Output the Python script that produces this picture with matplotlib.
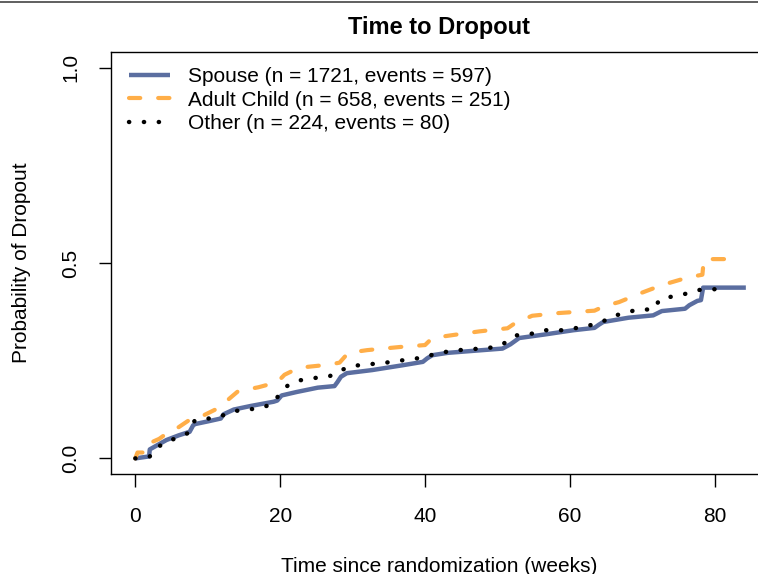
import numpy as np
import matplotlib
matplotlib.use("Agg")
import matplotlib.pyplot as plt
from matplotlib.lines import Line2D

plt.rcParams['font.family'] = ['Liberation Sans', 'DejaVu Sans']

# cumulative dropout curves (weeks, probability)
spouse_t = [0, 1.9, 2.0, 4.3, 6.0, 7.5, 8.0, 8.3, 10.1, 11.8, 12.2, 13.6, 15.9, 19.1, 19.6, 20.2,
            22.3, 25.2, 27.5, 27.9, 28.4, 29.2, 32.7, 36.8, 39.7, 40.3, 41.0, 43.1, 47.2, 50.7,
            51.8, 53.0, 56.5, 60.5, 63.4, 64.0, 64.6, 68.1, 71.5, 72.7, 75.9, 76.5, 77.6, 78.1,
            78.4, 84.3]
spouse_p = [0, 0.005, 0.023, 0.047, 0.059, 0.068, 0.085, 0.088, 0.095, 0.102, 0.113, 0.125, 0.134,
            0.145, 0.148, 0.161, 0.17, 0.181, 0.185, 0.195, 0.209, 0.218, 0.226, 0.238, 0.247,
            0.256, 0.264, 0.27, 0.276, 0.281, 0.292, 0.308, 0.317, 0.328, 0.334, 0.342, 0.349,
            0.36, 0.366, 0.377, 0.383, 0.392, 0.403, 0.405, 0.437, 0.437]

child_t = [0, 0.3, 1.6, 2.1, 3.3, 4.8, 6.0, 7.6, 9.2, 11.6, 12.8, 14.2, 17.0, 19.6, 20.6, 22.6,
           26.8, 28.2, 29.4, 32.0, 36.5, 40.0, 41.0, 44.0, 47.5, 51.4, 52.5, 54.8, 58.5, 63.4,
           64.8, 66.8, 69.8, 72.8, 76.5, 78.3, 78.5, 83.3]
child_p = [0, 0.015, 0.015, 0.04, 0.05, 0.07, 0.08, 0.1, 0.108, 0.13, 0.15, 0.172, 0.182, 0.195,
           0.214, 0.232, 0.24, 0.245, 0.27, 0.277, 0.285, 0.29, 0.308, 0.316, 0.325, 0.333,
           0.347, 0.365, 0.372, 0.378, 0.39, 0.40, 0.423, 0.444, 0.464, 0.47, 0.51, 0.51]

other_t = [0, 1.9, 3.0, 4.3, 6.0, 7.5, 8.2, 10.1, 11.8, 13.6, 15.6, 17.6, 19.1, 20.1, 21.2, 22.8,
           24.9, 26.8, 28.2, 29.8, 32.1, 34.0, 35.9, 37.9, 39.9, 41.7, 43.7, 45.8, 47.8, 49.8,
           51.3, 52.7, 54.7, 56.5, 58.8, 60.7, 62.6, 64.3, 65.8, 67.5, 69.3, 71.6, 72.4, 74.3,
           76.2, 77.9, 80.1]
other_p = [0, 0.003, 0.027, 0.044, 0.053, 0.067, 0.097, 0.102, 0.108, 0.121, 0.125, 0.13, 0.142,
           0.17, 0.189, 0.2, 0.206, 0.21, 0.224, 0.236, 0.241, 0.243, 0.249, 0.253, 0.259,
           0.269, 0.275, 0.279, 0.281, 0.285, 0.298, 0.315, 0.319, 0.328, 0.328, 0.333, 0.34,
           0.347, 0.364, 0.371, 0.381, 0.381, 0.407, 0.415, 0.422, 0.431, 0.433]

labels = ["Spouse (n = 1721, events = 597)",
          "Adult Child (n = 658, events = 251)",
          "Other (n = 224, events = 80)"]
xticks = [0, 20, 40, 60, 80]
yticks = [0.0, 0.5, 1.0]
ytick_labels = ["0.0", "0.5", "1.0"]

blue = "#5B6EA0"
orange = "#FFAE48"

fig = plt.figure(figsize=(7.58, 5.74), dpi=100)
ax = fig.add_axes([0.1464, 0.1742, 0.8668, 0.7352])

ax.plot(spouse_t, spouse_p, color=blue, lw=3.2, solid_capstyle='butt', label=labels[0])
ax.plot(child_t, child_p, color=orange, lw=3.0, dashes=(2.7, 4.3), dash_capstyle='round',
        label=labels[1])
ax.plot(other_t, other_p, color='black', lw=3.2, dashes=(0.05, 3.3), dash_capstyle='round',
        label=labels[2])

ax.set_xlim(-3.36, 87.36)
ax.set_ylim(-0.04, 1.04)
ax.set_xticks(xticks)
ax.set_yticks(yticks)
ax.set_yticklabels(ytick_labels, rotation=90, va='center')
ax.tick_params(axis='both', length=9, width=1, labelsize=15, color='black')
ax.tick_params(axis='x', pad=15)
ax.tick_params(axis='y', pad=13)
for s in ax.spines.values():
    s.set_linewidth(1.0)

ax.set_title("Time to Dropout", fontsize=17, fontweight='bold', pad=13)
ax.set_xlabel("Time since randomization (weeks)", fontsize=15, labelpad=22)
ax.set_ylabel("Probability of Dropout", fontsize=15, labelpad=22)

ax.legend(loc='upper left', bbox_to_anchor=(128.5 / 758, 1 - 67 / 574),
          bbox_transform=fig.transFigure, frameon=False, fontsize=15,
          handlelength=1.97, handletextpad=0.9, labelspacing=0.22,
          borderpad=0, borderaxespad=0)

# thin rule along the top edge
fig.add_artist(Line2D([0, 1], [1 - 1.5 / 574] * 2, transform=fig.transFigure,
                      color='#444444', lw=1.2))

fig.savefig("out.png", dpi=100)
